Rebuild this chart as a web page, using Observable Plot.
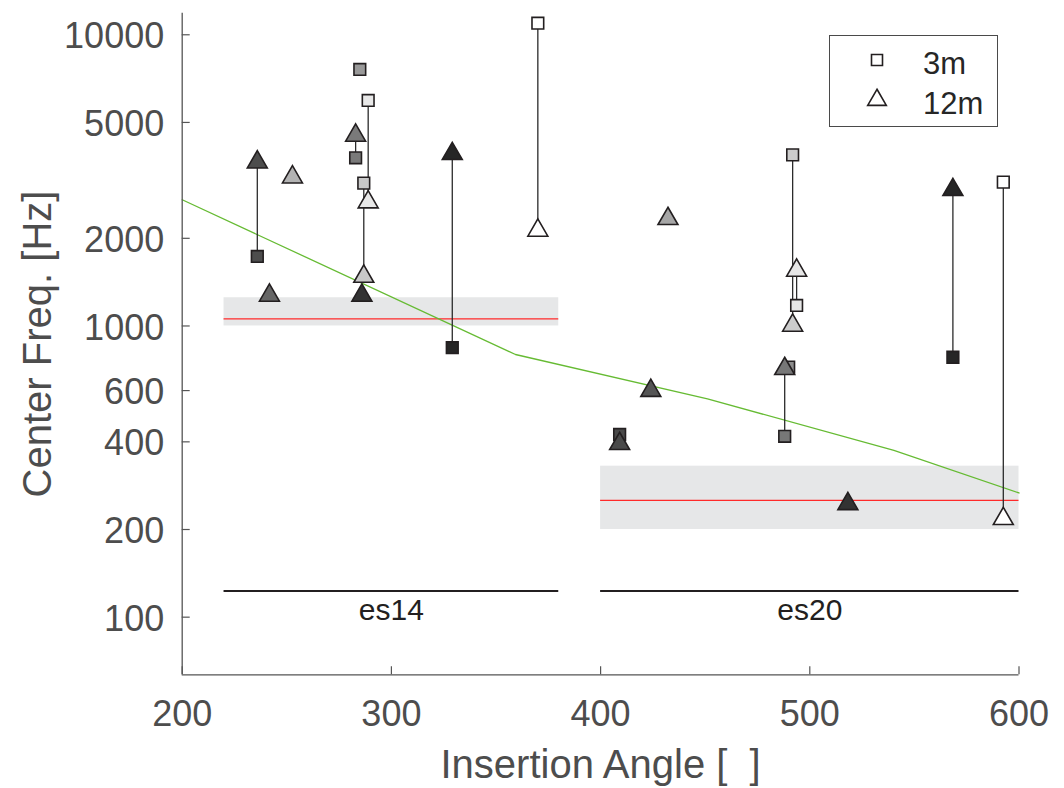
<!DOCTYPE html>
<html><head><meta charset="utf-8">
<script src="https://cdn.jsdelivr.net/npm/d3@7"></script>
<script src="https://cdn.jsdelivr.net/npm/@observablehq/plot@0.6"></script>
<style>
body{margin:0;background:#fff;}
#wrap{position:relative;width:1064px;height:788px;font-family:"Liberation Sans",Arial,Helvetica,sans-serif;}
#legend{position:absolute;left:829px;top:35px;width:169px;height:92px;border:1px solid #4a4a4a;box-sizing:border-box;background:#fff;}
</style></head><body><div id="wrap"></div>
<script>
// ---- axes ----
const xTicks = [200, 300, 400, 500, 600];
const yTicks = [100, 200, 400, 600, 1000, 2000, 5000, 10000];
const xDomain = [200, 600];
const yDomain = [63.4, 11860];
const xTitle = "Insertion Angle [  ]";
const yTitle = "Center Freq. [Hz]";

// ---- 3m measurements (squares) ----
const sqId    = ["A",   "D",   "E",   "F",   "G",   "J",    "K",   "M",   "N",   "O",   "P",   "R",   "S",   "T"];
const sqAngle = [235.9, 284.9, 288.9, 282.9, 286.8, 370.0,  329.1, 491.8, 493.7, 488.0, 489.9, 409.1, 568.4, 592.5];
const sqFreq  = [1733,  7601,  5949,  3780,  3094,  10960,  842,   3870,  1176,  418,   722,   424,   781,   3118];

// ---- 12m measurements (triangles) ----
const triId    = ["A",   "B",   "C",   "E",   "F",   "G",   "H",   "J",   "K",   "L",   "M",   "N",   "O",   "Q",   "R",   "S",   "T",   "U"];
const triAngle = [235.9, 252.7, 241.7, 288.9, 282.9, 286.8, 285.9, 370.0, 329.1, 432.2, 491.8, 493.7, 488.0, 424.0, 409.1, 568.4, 592.5, 518.2];
const triFreq  = [3651,  3243,  1273,  2662,  4511,  1479,  1273,  2128,  3902,  2334,  1004,  1551,  713,   600,   394,   2935,  217.7, 245];

// electrodes whose 3m and 12m values are joined
const linkedIds = ["A", "E", "F", "G", "J", "K", "M", "N", "O", "S", "T"];

// electrode identity -> gray shade
const electrodeIds   = ["A","B","C","D","E","F","G","H","J","K","L","M","N","O","P","Q","R","S","T","U"];
const electrodeShade = ["#4d4d4d","#b3b3b3","#666666","#999999","#e8e8e8","#7a7a7a","#c8c8c8","#333333","#ffffff","#262626",
                        "#a6a6a6","#cccccc","#e6e6e6","#777777","#8c8c8c","#555555","#4a4a4a","#262626","#ffffff","#333333"];

// ---- trend line ----
const trendAngle = [200, 359.3, 451.1, 540.2, 600];
const trendFreq  = [2713, 798, 562, 374, 267];

// ---- subject groups ----
const groupName  = ["es14", "es20"];
const groupStart = [220, 400];
const groupEnd   = [380, 600];
const bandLow    = [1000, 200];
const bandHigh   = [1250, 330];
const bandMean   = [1058, 252];
const groupBarFreq = 123;

// ---- build tables ----
const squares = sqId.map((id, i) => ({id, x: sqAngle[i], y: sqFreq[i]}));
const triangles = triId.map((id, i) => ({id, x: triAngle[i], y: triFreq[i]}));
const links = linkedIds.map(id => {
  const s = squares.find(d => d.id === id), t = triangles.find(d => d.id === id);
  return {x1: s.x, y1: s.y, x2: t.x, y2: t.y};
});
const trend = trendAngle.map((x, i) => ({x, y: trendFreq[i]}));
const groups = groupName.map((name, i) => ({name, x1: groupStart[i], x2: groupEnd[i], lo: bandLow[i], hi: bandHigh[i], mean: bandMean[i]}));

const W = 1064, H = 788, mL = 181.7, mR = 45.5, mT = 12.7, mB = 113.7;
const frameW = W - mL - mR, frameH = H - mT - mB;
const axisColor = "#555555", textColor = "#4d4d4d", ink = "#231f20";

const chart = Plot.plot({
  width: W, height: H,
  marginLeft: mL, marginRight: mR, marginTop: mT, marginBottom: mB,
  style: {fontFamily: '"Liberation Sans", Arial, Helvetica, sans-serif', background: "#fff", color: textColor},
  x: {domain: xDomain},
  y: {type: "log", domain: yDomain, axis: null},
  color: {type: "ordinal", domain: electrodeIds, range: electrodeShade},
  marks: [
    Plot.rect(groups, {x1: "x1", x2: "x2", y1: "lo", y2: "hi", fill: "#e6e7e8"}),
    Plot.ruleY(groups, {x1: "x1", x2: "x2", y: "mean", stroke: "#ff2a2a", strokeWidth: 1.2}),
    Plot.line(trend, {x: "x", y: "y", stroke: "#66bb33", strokeWidth: 1.3}),
    Plot.ruleY(groups, {x1: "x1", x2: "x2", y: () => groupBarFreq, stroke: ink, strokeWidth: 2}),
    Plot.text(groups, {x: d => (d.x1 + d.x2) / 2, y: () => groupBarFreq, text: "name", dy: 19, fontSize: 30, fill: ink}),
    Plot.link(links, {x1: "x1", y1: "y1", x2: "x2", y2: "y2", stroke: "#2b2b2b", strokeWidth: 1.3}),
    Plot.dot(squares, {x: "x", y: "y", symbol: "square", r: 6.6, fill: "id", stroke: ink, strokeWidth: 1.6}),
    Plot.dot(triangles, {x: "x", y: "y", symbol: "triangle", r: 7.4, fill: "id", stroke: ink, strokeWidth: 1.6}),
    // axis lines
    Plot.ruleX([xDomain[0]], {stroke: axisColor, strokeWidth: 1.3}),
    Plot.ruleY([yDomain[0]], {stroke: axisColor, strokeWidth: 1.3}),
    // inward ticks
    Plot.tickY(yTicks, {y: d => d, stroke: axisColor, strokeWidth: 1.2, insetRight: frameW - 8}),
    Plot.tickX(xTicks, {x: d => d, stroke: axisColor, strokeWidth: 1.2, insetTop: frameH - 8}),
    // y tick labels
    Plot.text(yTicks, {y: d => d, text: d => String(d), frameAnchor: "left", textAnchor: "end", dx: -18, dy: 2, fontSize: 36, fill: textColor}),
    Plot.axisX({ticks: xTicks, tickFormat: d => String(d), tickSize: 0, tickPadding: 26, fontSize: 36, label: null}),
    Plot.text([xTitle], {text: d => d, frameAnchor: "bottom", dy: 103, fontSize: 40, fill: textColor}),
    Plot.text([yTitle], {text: d => d, frameAnchor: "left", textAnchor: "middle", rotate: -90, dx: -144, fontSize: 40, fill: textColor})
  ]
});

const wrap = document.getElementById("wrap");
wrap.appendChild(chart);

// legend
const legendItems = [{label: "3m", symbol: d3.symbolSquare, size: 121}, {label: "12m", symbol: d3.symbolTriangle, size: 150}];
const leg = document.createElement("div");
leg.id = "legend";
const ns = "http://www.w3.org/2000/svg";
const lsvg = document.createElementNS(ns, "svg");
lsvg.setAttribute("width", 167); lsvg.setAttribute("height", 90);
legendItems.forEach((it, i) => {
  const cy = i === 0 ? 24 : 64;
  const p = document.createElementNS(ns, "path");
  p.setAttribute("d", d3.symbol(it.symbol, it.size)());
  p.setAttribute("transform", `translate(47,${cy})`);
  p.setAttribute("fill", "#fff"); p.setAttribute("stroke", ink); p.setAttribute("stroke-width", 1.6);
  lsvg.appendChild(p);
  const t = document.createElementNS(ns, "text");
  t.setAttribute("x", 93); t.setAttribute("y", cy + 3); t.setAttribute("dy", "0.35em");
  t.setAttribute("font-size", 31); t.setAttribute("fill", "#262626");
  t.setAttribute("font-family", '"Liberation Sans", Arial, sans-serif');
  t.textContent = it.label;
  lsvg.appendChild(t);
});
leg.appendChild(lsvg);
wrap.appendChild(leg);
</script></body></html>
